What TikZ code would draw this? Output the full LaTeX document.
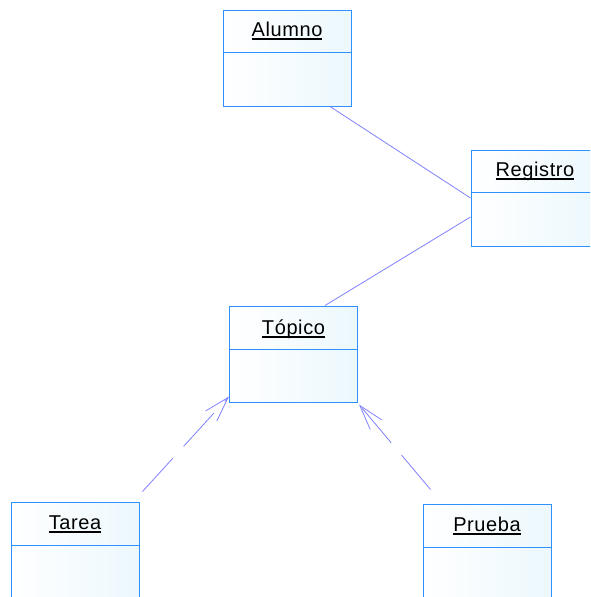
\documentclass[tikz,border=0pt]{standalone}
\usepackage{fontspec}
\setmainfont{Liberation Sans}[LetterSpace=3]
\usetikzlibrary{arrows.meta}

\definecolor{boxblue}{RGB}{45,145,255}
\definecolor{linkblue}{RGB}{128,128,255}
\definecolor{boxfill}{RGB}{236,248,253}
\newcommand{\ulname}[1]{\setbox0\hbox{#1}\rlap{\rule[-3.6pt]{\wd0}{1.8pt}}\box0}

\begin{document}
\begin{tikzpicture}[x=1pt, y=-1pt,
    classbox/.style={draw=boxblue, line width=1pt, left color=white, right color=boxfill,
        minimum width=128pt, minimum height=96pt, inner sep=0pt},
    classname/.style={anchor=base, inner sep=0pt, font=\fontsize{20}{24}\selectfont},
    divider/.style={draw=boxblue, line width=1pt},
    link/.style={draw=linkblue, line width=0.8pt},
    depends/.style={draw=linkblue, line width=0.8pt, dash pattern=on 45pt off 16pt,
        -{Straight Barb[length=25pt, width=15pt, line width=0.8pt]}}]
\useasboundingbox (0,0) rectangle (590,597);
\clip (0,0) rectangle (590,597);
\node[classbox] (Alumno) at (287,58) {};
\node[classbox] (Registro) at (535,198) {};
\node[classbox] (Topico) at (293.5,354) {};
\node[classbox] (Tarea) at (75,550) {};
\node[classbox] (Prueba) at (487,552) {};
    \draw[divider] ([yshift=-43pt]Alumno.north west) -- ([yshift=-43pt]Alumno.north east);
    \draw[divider] ([yshift=-43pt]Registro.north west) -- ([yshift=-43pt]Registro.north east);
    \draw[divider] ([yshift=-44pt]Topico.north west) -- ([yshift=-44pt]Topico.north east);
    \draw[divider] ([yshift=-44pt]Tarea.north west) -- ([yshift=-44pt]Tarea.north east);
    \draw[divider] ([yshift=-44pt]Prueba.north west) -- ([yshift=-44pt]Prueba.north east);
\node[classname] (AlumnoName) at ([yshift=-27pt]Alumno.north) {\ulname{Alumno}};
\node[classname] (RegistroName) at ([yshift=-27pt]Registro.north) {\ulname{Registro}};
\node[classname] (TopicoName) at ([yshift=-29pt]Topico.north) {\ulname{Tópico}};
\node[classname] (TareaName) at ([yshift=-28pt]Tarea.north) {\ulname{Tarea}};
\node[classname] (PruebaName) at ([yshift=-28pt]Prueba.north) {\ulname{Prueba}};
\draw[link] ([xshift=43pt]Alumno.south) -- (Registro.west);
\draw[link] ([yshift=-19pt]Registro.west) -- ([xshift=31.5pt]Topico.north);
\draw[depends] ([xshift=3pt, yshift=10pt]Tarea.north east) -- ([yshift=6pt]Topico.south west);
\draw[depends] ([xshift=8pt, yshift=14pt]Prueba.north west) -- ([xshift=1pt, yshift=-2pt]Topico.south east);
\end{tikzpicture}
\end{document}
